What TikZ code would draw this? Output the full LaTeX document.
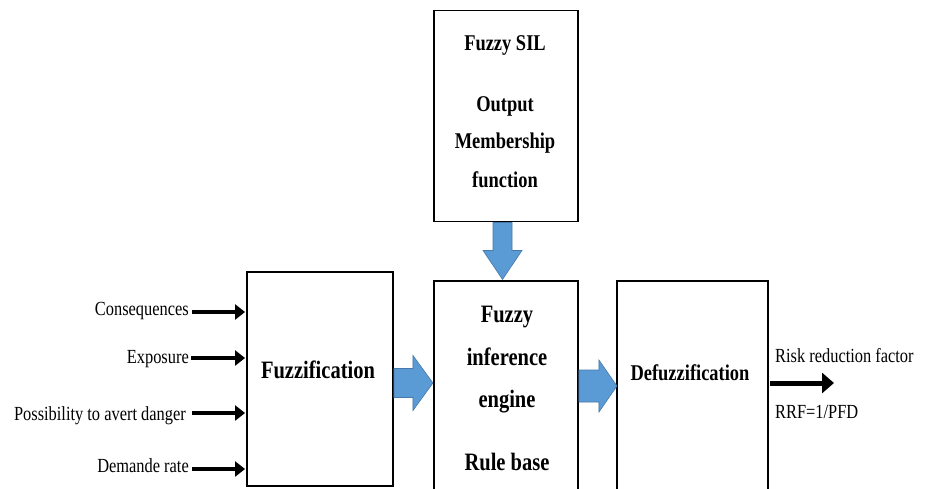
\documentclass[tikz,border=0pt]{standalone}
\usepackage{fontspec}
\setmainfont{Liberation Serif}[FakeStretch=0.82]
\usetikzlibrary{arrows.meta}
\definecolor{flowblue}{RGB}{91,155,213}
\definecolor{flowedge}{RGB}{70,120,170}
\begin{document}
\begin{tikzpicture}[x=1pt,y=-1pt,
  box/.style={draw=black, line width=1.9pt, inner sep=0pt},
  bigtitle/.style={font=\bfseries\fontsize{25}{28}\selectfont, inner sep=0pt, anchor=base},
  midtitle/.style={font=\bfseries\fontsize{22.5}{26}\selectfont, inner sep=0pt, anchor=base},
  lbl/.style={font=\fontsize{20}{24}\selectfont, inner sep=0pt},
  inarrow/.style={line width=4.4pt, -{Triangle[length=10pt,width=15pt]}},
  outarrow/.style={line width=5pt, -{Triangle[length=12pt,width=20pt]}},
  blockarrow/.style={fill=flowblue, draw=flowedge, line width=0.6pt, line join=miter}]

\path[use as bounding box, fill=white] (0,0) rectangle (929,488);
\clip (0,0) rectangle (929,488);

% processing blocks
\node[box, minimum width=144pt, minimum height=211pt] (sil) at (506,116) {};
\node[box, minimum width=146pt, minimum height=214pt] (fuzz) at (320,379) {};
\node[box, minimum width=144pt, minimum height=219pt] (inf) at (506,390.5) {};
\node[box, minimum width=151pt, minimum height=219pt] (defuzz) at (692.5,390.5) {};

% block texts
\node[midtitle] (silA) at (505,50) {Fuzzy SIL};
\node[midtitle] (silB) at (505,111) {Output};
\node[midtitle] (silC) at (505,148) {Membership};
\node[midtitle] (silD) at (505,187) {function};

\node[bigtitle] (fuzzT) at (318,378) {Fuzzification};

\node[bigtitle] (infA) at (507,322) {Fuzzy};
\node[bigtitle] (infB) at (507,365) {inference};
\node[bigtitle] (infC) at (507,407) {engine};
\node[bigtitle] (infD) at (507,470) {Rule base};

\node[midtitle] (defT) at (690,380) {Defuzzification};

% inputs
\node[lbl, anchor=base east] (in1) at (189,315) {Consequences};
\node[lbl, anchor=base east] (in2) at (189,363) {Exposure};
\node[lbl, anchor=base east] (in3) at (186,420) {Possibility to avert danger};
\node[lbl, anchor=base east] (in4) at (189,472) {Demande rate};

\coordinate (s1) at (192,312);
\coordinate (s2) at (191,358);
\coordinate (s3) at (192,413);
\coordinate (s4) at (192,469);
\foreach \s in {s1,s2,s3,s4}
  \draw[inarrow] (\s) -- ([xshift=-1pt]\s -| fuzz.west);

% output
\coordinate (o1) at ([xshift=1pt]defuzz.east |- 0,383);
\coordinate (o2) at (834,383);
\draw[outarrow] (o1) -- (o2);
\node[lbl, anchor=base west] (outA) at (775,362) {Risk reduction factor};
\node[lbl, anchor=base west] (outB) at (775,418) {RRF=1/PFD};

% block arrows between stages
\coordinate (b1) at (sil.south -| 502.5,0);
\path[blockarrow] (b1) ++(-9.5,0) -- ++(0,28) -- ++(-10,0) -- ++(19.5,29)
  -- ++(19.5,-29) -- ++(-10,0) -- ++(0,-28) -- cycle;

\coordinate (b2) at (fuzz.east |- 0,383);
\path[blockarrow] (b2) ++(0,-14.5) -- ++(19,0) -- ++(0,-13) -- ++(20,27.5)
  -- ++(-20,27.5) -- ++(0,-13) -- ++(-19,0) -- cycle;

\coordinate (b3) at (inf.east |- 0,386);
\path[blockarrow] (b3) ++(0,-16) -- ++(20,0) -- ++(0,-10) -- ++(18,26)
  -- ++(-18,26) -- ++(0,-10) -- ++(-20,0) -- cycle;
\end{tikzpicture}
\end{document}
